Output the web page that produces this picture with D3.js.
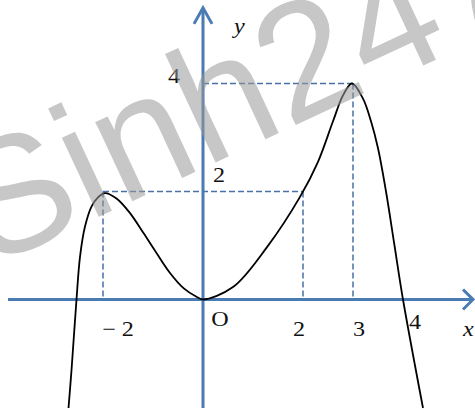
<!DOCTYPE html>
<html>
<head>
<meta charset="utf-8">
<script src="https://cdn.jsdelivr.net/npm/d3@7"></script>
<style>
  html, body { margin: 0; padding: 0; background: #fff; }
  svg { display: block; }
  .lbl { font-family: "Liberation Serif", "Times New Roman", serif; font-size: 21px; fill: #111; }
</style>
</head>
<body>
<div id="chart"></div>
<script>
// curve points (x, y in graph units)
var curveX = [-2.69, -2.63, -2.53, -2.46, -2.36, -2.23, -2.09, -1.96, -1.73, -1.46, -1.19, -0.93, -0.66, -0.39, -0.13, 0,
              0.6, 1.28, 1.94, 2.3, 2.6, 2.8, 2.98, 3.2, 3.36, 3.5, 3.66, 3.83, 4.0, 4.4];
var curveY = [-2.01, -1.31, 0, 0.79, 1.35, 1.72, 1.9, 1.97, 1.87, 1.6, 1.23, 0.86, 0.49, 0.21, 0.05, 0,
              0.23, 0.97, 1.9, 2.55, 3.3, 3.78, 4.0, 3.72, 3.3, 2.8, 2.0, 1.0, 0, -2.01];

// dashed guide lines: [x1, y1, x2, y2]
var guides = [
  [0, 4, 3, 4], [3, 4, 3, 0],
  [-2, 2, 2, 2], [-2, 2, -2, 0], [2, 2, 2, 0]
];

var xTicks = [-2, 2, 3, 4];
var xTickLabels = ["\u2212 2", "2", "3", "4"];
var yTicks = [2, 4];
var yTickLabels = ["2", "4"];

var width = 475;
var height = 413;

var x = d3.scaleLinear().domain([-4.06, 5.44]).range([0, width]);
var y = d3.scaleLinear().domain([5.546, -2.102]).range([0, height]);

var svg = d3.select("#chart").append("svg")
    .attr("width", width)
    .attr("height", height);

var axisColor = "#4a7bb3";
var dashColor = "#4a70a8";

// guides
svg.append("g").selectAll("line")
    .data(guides)
    .enter().append("line")
    .attr("x1", function (d) { return x(d[0]); })
    .attr("y1", function (d) { return y(d[1]); })
    .attr("x2", function (d) { return x(d[2]); })
    .attr("y2", function (d) { return y(d[3]); })
    .attr("stroke", dashColor)
    .attr("stroke-width", 1.5)
    .attr("stroke-dasharray", "6,3");

// axes
var ax = svg.append("g")
    .attr("stroke", axisColor)
    .attr("stroke-width", 3)
    .attr("fill", "none");
ax.append("line")
    .attr("x1", x(-3.9)).attr("y1", y(0))
    .attr("x2", x(5.4)).attr("y2", y(0));
ax.append("line")
    .attr("x1", x(0)).attr("y1", y(-2.01))
    .attr("x2", x(0)).attr("y2", y(5.4));
// arrow heads
ax.append("path")
    .attr("d", "M" + (x(5.4) - 10) + "," + (y(0) - 10) + "L" + x(5.4) + "," + y(0) + "L" + (x(5.4) - 10) + "," + (y(0) + 10));
ax.append("path")
    .attr("d", "M" + (x(0) - 9) + "," + (y(5.4) + 16) + "L" + x(0) + "," + y(5.4) + "L" + (x(0) + 9) + "," + (y(5.4) + 16));

// curve
var pts = curveX.map(function (v, i) { return [v, curveY[i]]; });
var line = d3.line()
    .x(function (d) { return x(d[0]); })
    .y(function (d) { return y(d[1]); })
    .curve(d3.curveCatmullRom.alpha(0.5));
svg.append("path")
    .datum(pts)
    .attr("d", line)
    .attr("fill", "none")
    .attr("stroke", "#000")
    .attr("stroke-width", 1.8);

// labels (hand-placed offsets like the original drawing)
var xOff = { "-2": 15, "2": -4, "3": 6, "4": 12 };
var labels = svg.append("g");
xTicks.forEach(function (t, i) {
  labels.append("text")
      .attr("class", "lbl")
      .attr("text-anchor", "middle")
      .attr("transform", "translate(" + (x(t) + xOff[t]) + "," + (t === 4 ? y(0) + 30 : y(0) + 37) + ") scale(1.15,1)")
      .text(xTickLabels[i]);
});
var yOff = { "2": [16, -9], "4": [-29, 0] };
yTicks.forEach(function (t, i) {
  labels.append("text")
      .attr("class", "lbl")
      .attr("text-anchor", "middle")
      .attr("transform", "translate(" + (x(0) + yOff[t][0]) + "," + (y(t) + yOff[t][1]) + ") scale(1.15,1)")
      .text(yTickLabels[i]);
});
labels.append("text").attr("class", "lbl").attr("text-anchor", "middle")
    .attr("transform", "translate(" + (x(0) + 17) + "," + (y(0) + 27) + ") scale(1.15,1)")
    .text("O");
labels.append("text").attr("class", "lbl").attr("font-style", "italic")
    .attr("transform", "translate(" + (x(0) + 31) + "," + (y(5.4) + 25) + ") scale(1.15,1)")
    .text("y");
labels.append("text").attr("class", "lbl").attr("font-style", "italic")
    .attr("transform", "translate(" + (x(5.2)) + "," + (y(0) + 37) + ") scale(1.15,1)")
    .text("x");

// watermark
svg.append("text")
    .attr("transform", "translate(-11,268) rotate(-25)")
    .attr("font-family", "Liberation Sans, Arial, sans-serif")
    .attr("font-size", 165)
    .attr("fill", "#999")
    .attr("fill-opacity", 0.55)
    .text("Sinh247");
</script>
</body>
</html>
